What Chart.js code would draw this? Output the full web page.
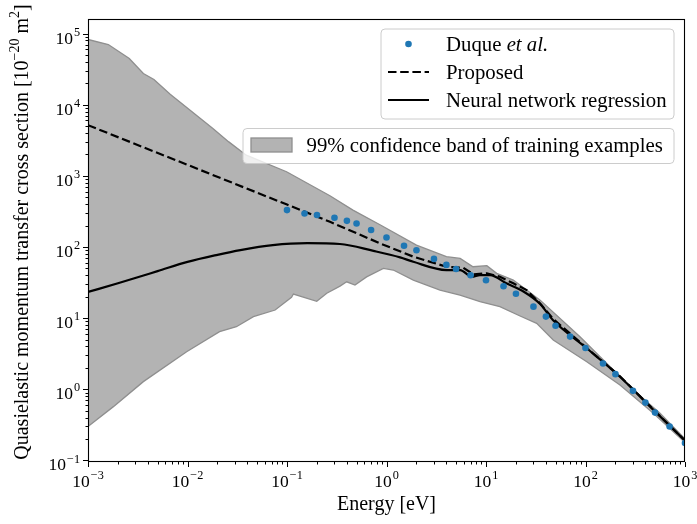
<!DOCTYPE html>
<html>
<head>
<meta charset="utf-8">
<title>Quasielastic momentum transfer cross section</title>
<script src="https://cdn.jsdelivr.net/npm/chart.js@4.4.1/dist/chart.umd.min.js"></script>
<style>
    html, body { margin: 0; padding: 0; background: #fff; }
    canvas { display: block; }
</style>
</head>
<body>
<canvas id="chart" width="697" height="524"></canvas>
<script>
// Duque et al. reference points
const duqueEnergy = [0.1, 0.15, 0.2, 0.3, 0.4, 0.5, 0.7, 1, 1.5, 2, 3, 4, 5, 7, 10, 15, 20, 30, 40, 50, 70, 100, 150, 200, 300, 400, 500, 700, 1000];
const duqueValues = [330, 296, 281, 257, 233, 214, 173, 136, 104, 90, 68, 56, 49, 40, 34, 28, 22, 14.5, 10.5, 7.8, 5.5, 3.8, 2.3, 1.63, 0.95, 0.65, 0.47, 0.30, 0.176];

// Proposed cross section (dashed)
const propEnergy = [0.001, 0.01, 0.1, 0.27, 0.86, 1.86, 4.0, 5.9, 7.5, 10.2, 13.8, 18.8, 25.6, 35, 47, 103, 222, 481, 1000];
const propValues = [5150, 1426, 394, 226, 112.5, 73, 52.7, 51, 41.2, 42.6, 38.2, 30.8, 24.8, 16.1, 9.8, 3.8, 1.52, 0.52, 0.19];

// Neural network regression (solid)
const nnEnergy = [0.001, 0.002, 0.005, 0.01, 0.02, 0.034, 0.072, 0.16, 0.34, 0.74, 1.37, 1.86, 4.0, 5.5, 7.2, 8.7, 11, 16, 24, 35, 47, 103, 222, 481, 1000];
const nnValues = [23.3, 30.9, 45.7, 61.7, 77.6, 90.4, 106, 113, 110, 88, 71.4, 61.9, 47.4, 47.4, 38.2, 40.3, 40.3, 30.8, 23.5, 15.8, 9.4, 3.77, 1.50, 0.513, 0.19];

// 99% confidence band, upper edge
const upperEnergy = [0.001, 0.0016, 0.0026, 0.0036, 0.0046, 0.0067, 0.018, 0.026, 0.039, 0.099, 0.27, 0.46, 0.86, 2.0, 4.0, 5.5, 7.4, 10.2, 12.8, 18.8, 25.6, 35, 88, 163, 303, 561, 1000];
const upperValues = [82400, 70000, 44600, 27400, 22600, 14000, 4630, 3000, 1950, 1140, 525, 330, 205, 106, 73, 69, 52.7, 54.5, 42.6, 34.3, 24.8, 17.9, 5.48, 2.32, 0.98, 0.46, 0.20];

// 99% confidence band, lower edge
const lowerEnergy = [0.001, 0.0018, 0.0036, 0.0098, 0.021, 0.031, 0.046, 0.076, 0.111, 0.116, 0.199, 0.251, 0.341, 0.398, 0.482, 0.631, 0.93, 1.17, 1.86, 3.45, 5.48, 8.71, 13.8, 22, 32.3, 47.4, 103, 222, 481, 1000];
const lowerValues = [0.30, 0.57, 1.28, 3.37, 6.44, 7.57, 10.5, 13.0, 19.6, 21.8, 17.2, 22.4, 28.2, 32.4, 29.2, 38.0, 50.1, 47.4, 34.3, 24.8, 21.1, 17.0, 14.5, 10.7, 8.45, 4.93, 2.44, 1.15, 0.46, 0.178];

// Axis ticks (decade exponents)
const xExponents = [-3, -2, -1, 0, 1, 2, 3];
const yExponents = [-1, 0, 1, 2, 3, 4, 5];

const SERIF = '"Liberation Serif", "Times New Roman", serif';
const BAND_FILL = '#b3b3b3';
const BAND_EDGE = '#8f8f8f';
const BLUE = '#1f77b4';
const LEGEND_SIZE = 20.8;

function toPoints(xs, ys) {
    return xs.map((x, i) => ({ x: x, y: ys[i] }));
}

// Draw "10" with a superscript exponent
function drawPower(ctx, exp, x, baseline, align, size) {
    const sup = String(exp).replace('-', '\u2212');
    ctx.font = `${size}px ${SERIF}`;
    const wBase = ctx.measureText('10').width;
    ctx.font = `${size * 0.7}px ${SERIF}`;
    const wSup = ctx.measureText(sup).width;
    const total = wBase + wSup + 1;
    let left = x - total / 2;
    if (align === 'right') left = x - total;
    ctx.textAlign = 'left';
    ctx.font = `${size}px ${SERIF}`;
    ctx.fillText('10', left, baseline);
    ctx.font = `${size * 0.7}px ${SERIF}`;
    ctx.fillText(sup, left + wBase + 1, baseline - size * 0.45);
}

// Draw a run of text pieces, some as superscript or italic
function drawRuns(ctx, runs, x, y, size) {
    let cx = x;
    runs.forEach(r => {
        const s = r.sup ? size * 0.7 : size;
        ctx.font = `${r.italic ? 'italic ' : ''}${s}px ${SERIF}`;
        ctx.fillText(r.text, cx, r.sup ? y - size * 0.45 : y);
        cx += ctx.measureText(r.text).width;
    });
    return cx - x;
}

function runsWidth(ctx, runs, size) {
    let w = 0;
    runs.forEach(r => {
        const s = r.sup ? size * 0.7 : size;
        ctx.font = `${r.italic ? 'italic ' : ''}${s}px ${SERIF}`;
        w += ctx.measureText(r.text).width;
    });
    return w;
}

function roundRect(ctx, x, y, w, h, r) {
    ctx.beginPath();
    ctx.moveTo(x + r, y);
    ctx.arcTo(x + w, y, x + w, y + h, r);
    ctx.arcTo(x + w, y + h, x, y + h, r);
    ctx.arcTo(x, y + h, x, y, r);
    ctx.arcTo(x, y, x + w, y, r);
    ctx.closePath();
}

// Matplotlib-like frame, log ticks, labels and legends
const mplAxes = {
    id: 'mplAxes',
    afterDatasetsDraw(chart) {
        const { ctx, chartArea: a, scales } = chart;
        const xs = scales.x, ys = scales.y;
        ctx.save();
        ctx.fillStyle = '#000';
        ctx.strokeStyle = '#000';

        // ticks
        ctx.lineWidth = 1;
        ctx.beginPath();
        for (let e = -3; e <= 3; e++) {
            for (let m = 1; m <= 9; m++) {
                const v = m * Math.pow(10, e);
                if (v > xs.max * 1.0001) break;
                const px = Math.round(xs.getPixelForValue(v)) + 0.5;
                ctx.moveTo(px, a.bottom);
                ctx.lineTo(px, a.bottom + (m === 1 ? 5 : 2.5));
            }
        }
        for (let e = -1; e <= 5; e++) {
            for (let m = 1; m <= 9; m++) {
                const v = m * Math.pow(10, e);
                if (v > ys.max || v < ys.min) continue;
                const py = Math.round(ys.getPixelForValue(v)) + 0.5;
                ctx.moveTo(a.left, py);
                ctx.lineTo(a.left - (m === 1 ? 5 : 2.5), py);
            }
        }
        ctx.stroke();

        // frame
        ctx.lineWidth = 1.1;
        ctx.strokeRect(a.left + 0.5, a.top + 0.5, a.right - a.left - 1, a.bottom - a.top - 1);

        // tick labels
        ctx.textBaseline = 'alphabetic';
        xExponents.forEach(e => {
            drawPower(ctx, e, xs.getPixelForValue(Math.pow(10, e)), a.bottom + 25, 'center', 17.5);
        });
        yExponents.forEach(e => {
            drawPower(ctx, e, a.left - 8, ys.getPixelForValue(Math.pow(10, e)) + 10, 'right', 17.5);
        });

        // axis titles
        ctx.font = `20px ${SERIF}`;
        ctx.textAlign = 'center';
        ctx.fillText('Energy [eV]', (a.left + a.right) / 2, 510);

        const yTitle = [
            { text: 'Quasielastic momentum transfer cross section [10' },
            { text: '\u221220', sup: true },
            { text: ' m' },
            { text: '2', sup: true },
            { text: ']' }
        ];
        ctx.save();
        ctx.translate(28, 232);
        ctx.rotate(-Math.PI / 2);
        ctx.textAlign = 'left';
        const tw = runsWidth(ctx, yTitle, 20);
        drawRuns(ctx, yTitle, -tw / 2, 0, 20);
        ctx.restore();

        // legend 1
        ctx.lineWidth = 1;
        ctx.fillStyle = 'rgba(255,255,255,0.8)';
        ctx.strokeStyle = '#cccccc';
        roundRect(ctx, 381, 29, 293, 90, 4);
        ctx.fill();
        ctx.stroke();

        ctx.fillStyle = BLUE;
        ctx.beginPath();
        ctx.arc(408.5, 44, 3.3, 0, Math.PI * 2);
        ctx.fill();

        ctx.strokeStyle = '#000';
        ctx.lineWidth = 2.2;
        ctx.setLineDash([8.5, 3.7]);
        ctx.beginPath();
        ctx.moveTo(388, 72);
        ctx.lineTo(429, 72);
        ctx.stroke();
        ctx.setLineDash([]);
        ctx.beginPath();
        ctx.moveTo(388, 100);
        ctx.lineTo(429, 100);
        ctx.stroke();

        ctx.fillStyle = '#000';
        ctx.textAlign = 'left';
        drawRuns(ctx, [{ text: 'Duque ' }, { text: 'et al.', italic: true }], 446, 50.5, LEGEND_SIZE);
        drawRuns(ctx, [{ text: 'Proposed' }], 446, 78.5, LEGEND_SIZE);
        drawRuns(ctx, [{ text: 'Neural network regression' }], 446, 106.5, LEGEND_SIZE);

        // legend 2
        ctx.lineWidth = 1;
        ctx.fillStyle = 'rgba(255,255,255,0.8)';
        ctx.strokeStyle = '#cccccc';
        roundRect(ctx, 243, 128.5, 431, 35, 4);
        ctx.fill();
        ctx.stroke();
        ctx.fillStyle = BAND_FILL;
        ctx.strokeStyle = BAND_EDGE;
        ctx.lineWidth = 1.3;
        ctx.fillRect(251, 138, 41, 14);
        ctx.strokeRect(251, 138, 41, 14);
        ctx.fillStyle = '#000';
        drawRuns(ctx, [{ text: '99% confidence band of training examples' }], 306.5, 151.5, LEGEND_SIZE);

        ctx.restore();
    }
};

const ctx = document.getElementById('chart').getContext('2d');
new Chart(ctx, {
    type: 'scatter',
    data: {
        datasets: [
            {
                label: 'band lower',
                data: toPoints(lowerEnergy, lowerValues),
                showLine: true,
                borderColor: BAND_EDGE,
                borderWidth: 1.3,
                pointRadius: 0,
                fill: false,
                clip: 0,
                order: 3
            },
            {
                label: '99% confidence band of training examples',
                data: toPoints(upperEnergy, upperValues),
                showLine: true,
                borderColor: BAND_EDGE,
                backgroundColor: BAND_FILL,
                borderWidth: 1.3,
                pointRadius: 0,
                fill: '-1',
                clip: 0,
                order: 3
            },
            {
                label: 'Neural network regression',
                data: toPoints(nnEnergy, nnValues),
                showLine: true,
                borderColor: '#000',
                borderWidth: 2.2,
                pointRadius: 0,
                cubicInterpolationMode: 'monotone',
                fill: false,
                clip: 0,
                order: 1
            },
            {
                label: 'Proposed',
                data: toPoints(propEnergy, propValues),
                showLine: true,
                borderColor: '#000',
                borderWidth: 2.2,
                borderDash: [8.5, 3.7],
                pointRadius: 0,
                fill: false,
                clip: 0,
                order: 1
            },
            {
                label: 'Duque et al.',
                data: toPoints(duqueEnergy, duqueValues),
                backgroundColor: BLUE,
                borderWidth: 0,
                pointRadius: 3.3,
                clip: 0,
                order: 0
            }
        ]
    },
    options: {
        responsive: false,
        animation: false,
        layout: { padding: { left: 88, right: 12, top: 19, bottom: 62 } },
        plugins: {
            legend: { display: false },
            tooltip: { enabled: false }
        },
        scales: {
            x: { type: 'logarithmic', min: 1e-3, max: 1e3, display: false },
            y: { type: 'logarithmic', min: 0.095, max: 1.6e5, display: false }
        }
    },
    plugins: [mplAxes]
});
</script>
</body>
</html>
